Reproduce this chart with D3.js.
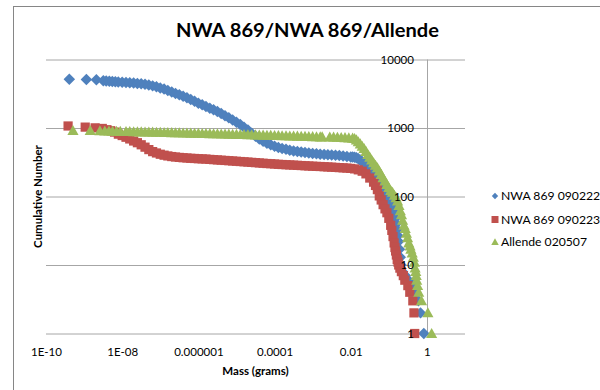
<!DOCTYPE html>
<html>
<head>
<meta charset="utf-8">
<script src="https://cdn.jsdelivr.net/npm/d3@7"></script>
<style>
  body { margin: 0; background: #fff; }
  svg { display: block; font-family: Lato, "Liberation Sans", sans-serif; }
</style>
</head>
<body>
<svg width="600" height="390"></svg>
<script>
// tick values and labels as Excel shows them
var xTicks = [1e-10, 1e-8, 1e-6, 1e-4, 1e-2, 1];
var xTickLabels = ["1E-10", "1E-08", "0.000001", "0.0001", "0.01", "1"];
var yTicks = [1, 10, 100, 1000, 10000];
var yTickLabels = ["1", "10", "100", "1000", "10000"];

var seriesNames = ["NWA 869 090222", "NWA 869 090223", "Allende 020507"];

// [mass (g), cumulative number]
var nwa090222 = [
  [4.1e-10, 5130], [1.15e-9, 5110], [2.1e-9, 5080], [3.2e-9, 4900], [3.8e-9, 4860],
  [4.6e-9, 4820], [5.5e-9, 4780], [6.6e-9, 4740], [7.9e-9, 4700], [1.0e-8, 4660],
  [1.26e-8, 4613], [1.58e-8, 4571], [2.0e-8, 4529], [2.51e-8, 4477], [3.16e-8, 4416],
  [3.98e-8, 4335], [5.01e-8, 4236], [6.31e-8, 4121], [7.94e-8, 3990], [1.0e-7, 3846],
  [1.26e-7, 3698], [1.58e-7, 3532], [2.0e-7, 3365], [2.51e-7, 3199], [3.16e-7, 3062],
  [3.98e-7, 2904], [5.01e-7, 2754], [6.31e-7, 2600], [7.94e-7, 2455], [1.0e-6, 2301],
  [1.26e-6, 2178], [1.58e-6, 2061], [2.0e-6, 1950], [2.51e-6, 1841], [3.16e-6, 1738],
  [3.98e-6, 1629], [5.01e-6, 1514], [6.31e-6, 1406], [7.94e-6, 1306], [1.0e-5, 1216],
  [1.26e-5, 1122], [1.58e-5, 1023], [2.0e-5, 933], [2.51e-5, 841], [3.16e-5, 759],
  [3.98e-5, 689], [5.01e-5, 638], [6.31e-5, 600], [7.94e-5, 569], [1.0e-4, 543],
  [1.26e-4, 519], [1.58e-4, 501], [2.0e-4, 488], [2.51e-4, 474], [3.16e-4, 463],
  [3.98e-4, 453], [5.01e-4, 445], [6.31e-4, 438], [7.94e-4, 431], [1.0e-3, 425],
  [1.26e-3, 420], [1.58e-3, 415], [2.0e-3, 411], [2.51e-3, 407], [3.16e-3, 404],
  [3.98e-3, 400], [5.01e-3, 396], [6.31e-3, 391], [7.94e-3, 385], [0.01, 378],
  [0.0112, 376], [0.0126, 374], [0.0141, 368], [0.0158, 356], [0.0178, 340],
  [0.02, 322], [0.0224, 302], [0.0251, 282], [0.0282, 262], [0.0316, 242],
  [0.0355, 222], [0.0398, 204], [0.0447, 186], [0.0501, 170], [0.0562, 154],
  [0.0631, 140], [0.0708, 127], [0.0794, 116], [0.0891, 107], [0.1, 99],
  [0.107, 88], [0.115, 78], [0.123, 70], [0.132, 63], [0.14, 57],
  [0.148, 48], [0.156, 40], [0.164, 33], [0.172, 27], [0.18, 22],
  [0.19, 17], [0.2, 13], [0.21, 10], [0.23, 8], [0.27, 7],
  [0.33, 6], [0.4, 5], [0.5, 4], [0.6, 3], [0.68, 2], [0.83, 1]
];

var nwa090223 = [
  [3.8e-10, 1070], [1.07e-9, 1030], [1.95e-9, 1005], [3.0e-9, 985], [3.98e-9, 944],
  [5.01e-9, 912], [6.31e-9, 871], [7.94e-9, 813], [1.0e-8, 776], [1.26e-8, 733],
  [1.58e-8, 692], [2.0e-8, 646], [2.51e-8, 610], [3.16e-8, 569], [3.98e-8, 525],
  [5.01e-8, 484], [6.31e-8, 452], [7.94e-8, 432], [1.0e-7, 414], [1.26e-7, 401],
  [1.58e-7, 391], [2.0e-7, 383], [2.51e-7, 377], [3.16e-7, 372], [3.98e-7, 368],
  [5.01e-7, 365], [6.31e-7, 361], [7.94e-7, 359], [1.0e-6, 356], [1.26e-6, 354],
  [1.58e-6, 352], [2.0e-6, 348], [2.51e-6, 345], [3.16e-6, 342], [3.98e-6, 339],
  [5.01e-6, 336], [6.31e-6, 333], [7.94e-6, 330], [1.0e-5, 327], [1.26e-5, 324],
  [1.58e-5, 321], [2.0e-5, 318], [2.51e-5, 315], [3.16e-5, 312], [3.98e-5, 309],
  [5.01e-5, 306], [6.31e-5, 303], [7.94e-5, 301], [1.0e-4, 298], [1.26e-4, 295],
  [1.58e-4, 293], [2.0e-4, 291], [2.51e-4, 289], [3.16e-4, 287], [3.98e-4, 285],
  [5.01e-4, 283], [6.31e-4, 281], [7.94e-4, 279], [1.0e-3, 277], [1.26e-3, 275],
  [1.58e-3, 274], [2.0e-3, 272], [2.51e-3, 270], [3.16e-3, 268], [3.98e-3, 266],
  [5.01e-3, 264], [6.31e-3, 262], [7.94e-3, 260], [0.01, 257], [0.0126, 253],
  [0.0158, 245], [0.02, 234], [0.0251, 214], [0.0316, 186], [0.0398, 162],
  [0.0447, 145], [0.0501, 126], [0.0562, 102], [0.0631, 89], [0.0708, 76],
  [0.0794, 66], [0.0891, 58], [0.1, 48], [0.112, 38], [0.12, 32],
  [0.129, 26], [0.138, 21], [0.145, 18], [0.151, 16], [0.158, 14],
  [0.166, 12], [0.175, 11], [0.182, 10], [0.195, 9], [0.214, 8],
  [0.24, 7], [0.263, 6], [0.316, 5], [0.355, 4], [0.427, 3], [0.457, 2], [0.479, 1]
];

var allende020507 = [
  [5.1e-10, 920], [1.45e-9, 915], [2.6e-9, 910], [3.5e-9, 905], [4.5e-9, 900],
  [5.6e-9, 897], [7.1e-9, 894], [8.9e-9, 891], [1.26e-8, 888], [1.58e-8, 885],
  [2.0e-8, 882], [2.51e-8, 880], [3.16e-8, 877], [3.98e-8, 874], [5.01e-8, 871],
  [6.31e-8, 868], [7.94e-8, 866], [1.0e-7, 863], [1.26e-7, 860], [1.58e-7, 857],
  [2.0e-7, 855], [2.51e-7, 852], [3.16e-7, 849], [3.98e-7, 846], [5.01e-7, 843],
  [6.31e-7, 840], [7.94e-7, 838], [1.0e-6, 835], [1.26e-6, 832], [1.58e-6, 829],
  [2.0e-6, 826], [2.51e-6, 823], [3.16e-6, 821], [3.98e-6, 818], [5.01e-6, 815],
  [6.31e-6, 812], [7.94e-6, 809], [1.0e-5, 806], [1.26e-5, 803], [1.58e-5, 800],
  [2.0e-5, 798], [2.51e-5, 795], [3.16e-5, 792], [3.98e-5, 789], [5.01e-5, 786],
  [6.31e-5, 783], [7.94e-5, 780], [1.0e-4, 777], [1.26e-4, 774], [1.58e-4, 771],
  [2.0e-4, 768], [2.51e-4, 765], [3.16e-4, 762], [3.98e-4, 759], [5.01e-4, 756],
  [6.31e-4, 753], [7.94e-4, 750], [1.0e-3, 747], [1.26e-3, 744], [1.58e-3, 741],
  [1.78e-3, 740], [2.82e-3, 739], [3.55e-3, 735], [4.47e-3, 731], [5.62e-3, 727],
  [7.08e-3, 722], [8.91e-3, 716], [0.0112, 710], [0.0126, 700], [0.0141, 670],
  [0.0158, 630], [0.0178, 585], [0.02, 540], [0.0224, 500], [0.0251, 455],
  [0.0282, 410], [0.0316, 375], [0.0355, 340], [0.0398, 310], [0.0447, 285],
  [0.0501, 262], [0.0562, 235], [0.0631, 210], [0.0708, 188], [0.0794, 168],
  [0.0891, 150], [0.1, 135], [0.112, 122], [0.125, 115], [0.14, 104],
  [0.155, 96], [0.17, 86], [0.185, 74], [0.2, 62], [0.215, 54],
  [0.23, 45], [0.25, 38], [0.27, 34], [0.29, 29], [0.31, 25],
  [0.335, 21], [0.36, 19], [0.38, 17], [0.41, 15], [0.44, 13],
  [0.47, 11], [0.49, 9], [0.51, 8], [0.525, 7], [0.54, 6],
  [0.57, 5], [0.61, 4], [0.72, 3], [1.06, 2], [1.33, 1]
];

var colors = ["#4F81BD", "#C0504D", "#9BBB59"];

// Excel style markers
var diamond = { draw: function (ctx, size) {
  var r = Math.sqrt(size) / 2;
  ctx.moveTo(0, -r); ctx.lineTo(r, 0); ctx.lineTo(0, r); ctx.lineTo(-r, 0); ctx.closePath();
}};
var square = { draw: function (ctx, size) {
  var r = Math.sqrt(size) / 2;
  ctx.rect(-r, -r, 2 * r, 2 * r);
}};
var triangle = { draw: function (ctx, size) {
  var r = Math.sqrt(size) / 2;
  ctx.moveTo(0, -r); ctx.lineTo(r, r * 0.8); ctx.lineTo(-r, r * 0.8); ctx.closePath();
}};

var series = [
  { name: seriesNames[0], data: nwa090222, color: colors[0], type: diamond, size: 132, legendSize: 40 },
  { name: seriesNames[1], data: nwa090223, color: colors[1], type: square, size: 85, legendSize: 49 },
  { name: seriesNames[2], data: allende020507, color: colors[2], type: triangle, size: 125, legendSize: 56 }
];

var svg = d3.select("svg");
var plotLeft = 46, plotRight = 465, plotTop = 59.5, plotBottom = 333.5;

var x = d3.scaleLog().domain([1e-10, 10]).range([plotLeft, plotRight]);
var y = d3.scaleLog().domain([1, 10000]).range([plotBottom, plotTop]);

svg.append("rect")
  .attr("x", 13.5).attr("y", 6.5)
  .attr("width", 640).attr("height", 420)
  .attr("fill", "#fff")
  .attr("stroke", "#868686");

svg.append("text")
  .attr("x", 307.5).attr("y", 37)
  .attr("text-anchor", "middle")
  .attr("font-size", 19.5)
  .attr("font-weight", "bold")
  .attr("textLength", 263)
  .attr("lengthAdjust", "spacingAndGlyphs")
  .text("NWA 869/NWA 869/Allende");

// horizontal gridlines
svg.append("g")
  .attr("transform", "translate(" + plotLeft + ",0)")
  .call(d3.axisRight(y).tickValues(yTicks).tickSize(plotRight - plotLeft).tickFormat(""))
  .call(g => g.select(".domain").remove())
  .call(g => g.selectAll("line").attr("stroke", "#a6a6a6"));

// vertical axis crosses at x = 1
svg.append("line")
  .attr("x1", Math.round(x(1)) + 0.5).attr("x2", Math.round(x(1)) + 0.5)
  .attr("y1", plotTop).attr("y2", plotBottom)
  .attr("stroke", "#a6a6a6");

series.forEach(function (s) {
  svg.append("g")
    .selectAll("path")
    .data(s.data)
    .enter().append("path")
    .attr("transform", d => "translate(" + x(d[0]) + "," + y(d[1]) + ")")
    .attr("d", d3.symbol().type(s.type).size(s.size))
    .attr("fill", s.color);
});

// axis labels sit above the markers, as in Excel
svg.append("g")
  .attr("transform", "translate(" + x(1) + ",0)")
  .call(d3.axisLeft(y).tickValues(yTicks).tickSize(0).tickPadding(13)
    .tickFormat((d, i) => yTickLabels[i]))
  .call(g => g.select(".domain").remove())
  .call(g => g.selectAll("text").attr("font-size", 11.5).attr("fill", "#000")
    .attr("font-family", "Lato, 'Liberation Sans', sans-serif"));

svg.append("g")
  .attr("transform", "translate(0," + plotBottom + ")")
  .call(d3.axisBottom(x).tickValues(xTicks).tickSize(0).tickPadding(14)
    .tickFormat((d, i) => xTickLabels[i]))
  .call(g => g.select(".domain").remove())
  .call(g => g.selectAll("text").attr("font-size", 11.5).attr("fill", "#000")
    .attr("font-family", "Lato, 'Liberation Sans', sans-serif"));

svg.append("text")
  .attr("x", (plotLeft + plotRight) / 2).attr("y", 375)
  .attr("text-anchor", "middle")
  .attr("font-size", 11.5).attr("font-weight", "bold")
  .text("Mass (grams)");

svg.append("text")
  .attr("transform", "translate(42," + (plotTop + plotBottom) / 2 + ") rotate(-90)")
  .attr("text-anchor", "middle")
  .attr("font-size", 11.5).attr("font-weight", "bold")
  .text("Cumulative Number");

var legendY = [196, 219.5, 242];
var legend = svg.append("g");
series.forEach(function (s, i) {
  legend.append("path")
    .attr("transform", "translate(495," + legendY[i] + ")")
    .attr("d", d3.symbol().type(s.type).size(s.legendSize))
    .attr("fill", s.color);
  legend.append("text")
    .attr("x", 501).attr("y", legendY[i])
    .attr("dy", "0.35em")
    .attr("font-size", 12.2)
    .text(s.name);
});
</script>
</body>
</html>
